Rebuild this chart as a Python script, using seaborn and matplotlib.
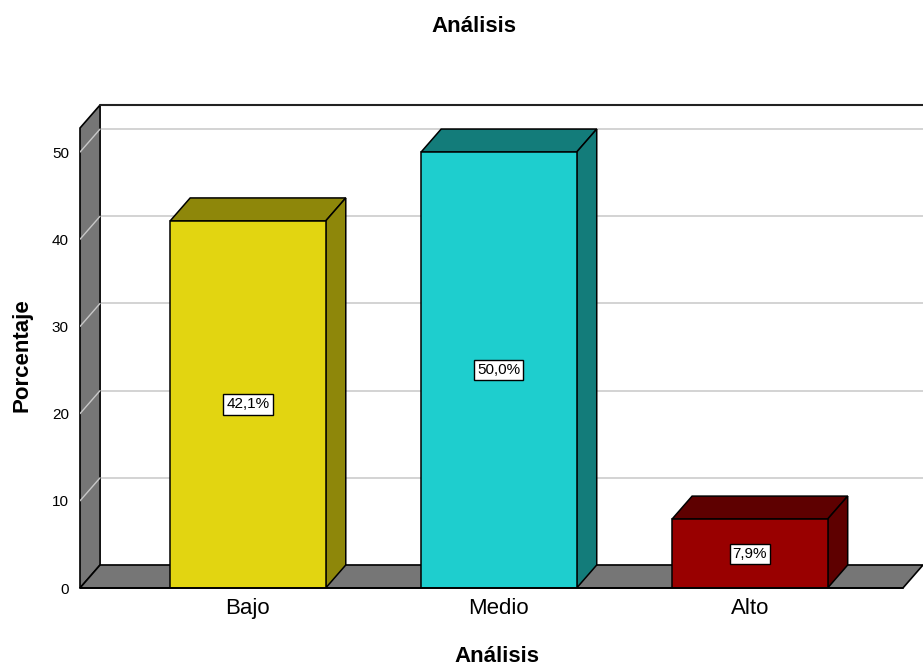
import seaborn as sns
import matplotlib.pyplot as plt
import matplotlib.patches as mpatches
import pandas as pd

# Data
categories = ["Bajo", "Medio", "Alto"]
porcentajes = [42.1, 50.0, 7.9]
etiquetas = ["42,1%", "50,0%", "7,9%"]
y_ticks = [0, 10, 20, 30, 40, 50]

front_colors = ["#E2D511", "#1ECECE", "#990000"]
dark_colors = ["#8E870A", "#137C7A", "#5E0000"]

df = pd.DataFrame({"Análisis": categories, "Porcentaje": porcentajes})

sns.set_style("white")
plt.rcParams["font.family"] = ["Liberation Sans", "DejaVu Sans"]
plt.rcParams["text.color"] = "black"
plt.rcParams["xtick.color"] = "black"
plt.rcParams["ytick.color"] = "black"

fig = plt.figure(figsize=(9.23, 6.67), dpi=100)
ax = fig.add_axes([80 / 923, 79 / 667, 843 / 923, 483 / 667])

sns.barplot(data=df, x="Análisis", y="Porcentaje", hue="Análisis", order=categories,
            palette=dict(zip(categories, front_colors)), legend=False, width=0.62,
            saturation=1, edgecolor="black", linewidth=1.1, ax=ax)

# 3D look: depth offsets in data units
x0, xmax = -0.669, 2.69
ymax = 55.4
dx, dy = 0.08, 2.64
gray = "#767676"

ax.set_xlim(x0, xmax)
ax.set_ylim(0, ymax)

# left wall and floor
left_wall = mpatches.Polygon([(x0, 0), (x0 + dx, dy), (x0 + dx, ymax), (x0, ymax - dy)],
                             closed=True, facecolor=gray, edgecolor="black", lw=1.2,
                             zorder=0.5, clip_on=False)
ax.add_patch(left_wall)
floor = mpatches.Polygon([(x0, 0), (xmax - dx, 0), (xmax, dy), (x0 + dx, dy)],
                         closed=True, facecolor=gray, edgecolor="black", lw=1.2,
                         zorder=0.6, clip_on=False)
ax.add_patch(floor)

# grid lines on back wall and left wall
for v in y_ticks[1:]:
    ax.plot([x0 + dx, xmax], [v + dy, v + dy], color="#CCCCCC", lw=1.2, zorder=0.4)
    ax.plot([x0, x0 + dx], [v, v + dy], color="#C8C8C8", lw=1.0, zorder=0.7)
ax.plot([x0 + dx, xmax], [ymax, ymax], color="#222222", lw=1.5, zorder=0.8, clip_on=False)

bars = [b for c in ax.containers for b in c]
for bar, dark, lab in zip(bars, dark_colors, etiquetas):
    bx, bw, bh = bar.get_x(), bar.get_width(), bar.get_height()
    bar.set_zorder(3)
    top = mpatches.Polygon([(bx, bh), (bx + dx, bh + dy), (bx + bw + dx, bh + dy), (bx + bw, bh)],
                           closed=True, facecolor=dark, edgecolor="black", lw=1.1, zorder=2)
    side = mpatches.Polygon([(bx + bw, 0), (bx + bw + dx, dy), (bx + bw + dx, bh + dy), (bx + bw, bh)],
                            closed=True, facecolor=dark, edgecolor="black", lw=1.1, zorder=2)
    ax.add_patch(top)
    ax.add_patch(side)
    ax.text(bx + bw / 2, bh / 2, lab, ha="center", va="center", fontsize=11, zorder=4,
            bbox=dict(boxstyle="square,pad=0.2", facecolor="white", edgecolor="black", lw=1))

ax.plot([x0, xmax - dx], [0, 0], color="black", lw=1.3, zorder=5, clip_on=False)

for s in ax.spines.values():
    s.set_visible(False)

ax.set_xlim(x0, xmax)
ax.set_ylim(0, ymax)
ax.set_yticks(y_ticks)
ax.set_yticklabels([str(t) for t in y_ticks], fontsize=11)
ax.tick_params(axis="y", length=0, pad=8)
ax.tick_params(axis="x", length=0, pad=7, labelsize=16)
ax.set_xlabel("")
ax.set_ylabel("")

fig.text(0.514, 0.96, "Análisis", ha="center", va="center", fontsize=16, fontweight="bold")
fig.text(0.538, 0.016, "Análisis", ha="center", va="center", fontsize=16, fontweight="bold")
fig.text(0.024, 0.468, "Porcentaje", ha="center", va="center", rotation=90,
         fontsize=16, fontweight="bold")

fig.savefig("out.png", dpi=100)
